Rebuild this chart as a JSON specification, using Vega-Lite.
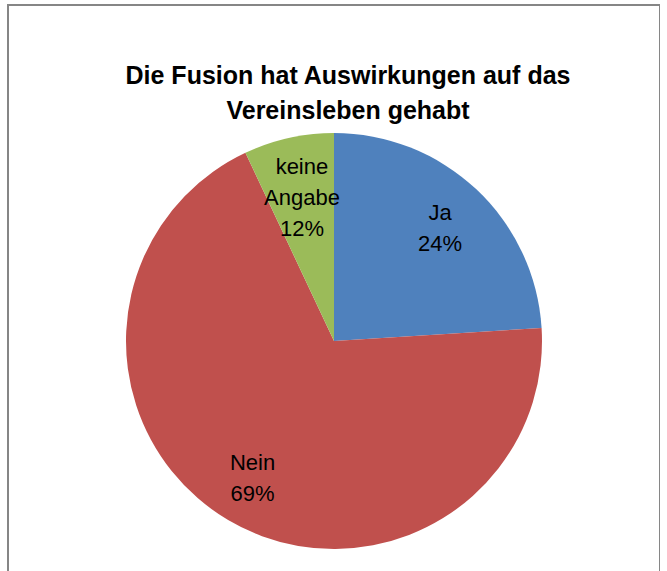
{
  "$schema": "https://vega.github.io/schema/vega-lite/v6.json",
  "width": 652,
  "height": 672,
  "autosize": {"type": "none"},
  "padding": {"left": 8, "top": 5, "right": 0, "bottom": 0},
  "background": "white",
  "view": {"stroke": "#868686", "strokeWidth": 2},
  "title": {
    "text": ["Die Fusion hat Auswirkungen auf das", "Vereinsleben gehabt"],
    "font": "Liberation Sans",
    "fontSize": 25,
    "fontWeight": "bold",
    "color": "black",
    "anchor": "middle",
    "baseline": "top",
    "lineHeight": 35,
    "offset": 0,
    "dx": 14,
    "dy": 119
  },
  "data": {
    "values": [
      {"category": "Ja", "value": 24, "label": "Ja\n24%"},
      {"category": "Nein", "value": 69, "label": "Nein\n69%"},
      {"category": "keine Angabe", "value": 7, "label": "keine\nAngabe\n12%"}
    ]
  },
  "encoding": {
    "theta": {"field": "value", "type": "quantitative", "stack": true},
    "color": {
      "field": "category",
      "type": "nominal",
      "scale": {"domain": ["Ja", "Nein", "keine Angabe"], "range": ["#4F81BD", "#C0504D", "#9BBB59"]},
      "legend": null
    }
  },
  "layer": [
    {"mark": {"type": "arc", "outerRadius": 208}},
    {
      "mark": {"type": "text", "radius": 155, "dy": -15.5, "font": "Liberation Sans", "fontSize": 22, "lineBreak": "\n", "lineHeight": 31, "align": "center", "baseline": "middle"},
      "encoding": {"text": {"condition": {"test": "datum.category === 'Ja'", "field": "label"}, "value": ""}, "color": {"value": "black"}, "detail": {"field": "category"}}
    },
    {
      "mark": {"type": "text", "radius": 160, "dy": -15.5, "font": "Liberation Sans", "fontSize": 22, "lineBreak": "\n", "lineHeight": 31, "align": "center", "baseline": "middle"},
      "encoding": {"text": {"condition": {"test": "datum.category === 'Nein'", "field": "label"}, "value": ""}, "color": {"value": "black"}, "detail": {"field": "category"}}
    },
    {
      "mark": {"type": "text", "radius": 147, "dy": -31, "font": "Liberation Sans", "fontSize": 22, "lineBreak": "\n", "lineHeight": 31, "align": "center", "baseline": "middle"},
      "encoding": {"text": {"condition": {"test": "datum.category === 'keine Angabe'", "field": "label"}, "value": ""}, "color": {"value": "black"}, "detail": {"field": "category"}}
    }
  ]
}
